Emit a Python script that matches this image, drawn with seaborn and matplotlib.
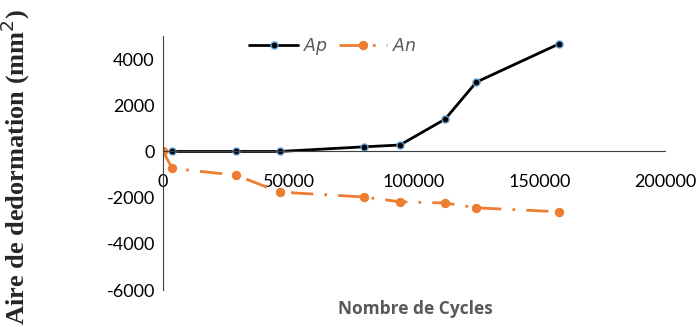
import matplotlib
matplotlib.use("Agg")
import matplotlib.pyplot as plt
import seaborn as sns
import pandas as pd

sns.set_style("white")
plt.rcParams["axes.unicode_minus"] = False

# data
cycles_ap = [3600, 29200, 46400, 80000, 94400, 112400, 124800, 157600]
area_ap = [0, 0, 0, 200, 280, 1400, 3000, 4650]
cycles_an = [0, 3600, 29200, 46400, 80000, 94400, 112400, 124800, 157600]
area_an = [0, -730, -1030, -1760, -1970, -2180, -2230, -2440, -2610]

df_ap = pd.DataFrame({"cycles": cycles_ap, "area": area_ap})
df_an = pd.DataFrame({"cycles": cycles_an, "area": area_an})

fig = plt.figure(figsize=(7, 3.27), dpi=100)
ax = fig.add_axes([0.233, 0.113, 0.717, 0.777])

sns.lineplot(data=df_ap, x="cycles", y="area", ax=ax, color="black", lw=2,
             marker="o", markersize=5, markerfacecolor="black",
             markeredgecolor="#5b9bd5", markeredgewidth=1, label="$Ap$")
sns.lineplot(data=df_an, x="cycles", y="area", ax=ax, color="#ed7d31", lw=2,
             marker="o", markersize=6, markerfacecolor="#ed7d31",
             markeredgecolor="#ed7d31", dashes=False, label="$An$")
ax.lines[1].set_dashes([8, 4, 1, 4])

ax.set_xlim(0, 200000)
ax.set_ylim(-6000, 5000)
ax.set_xticks([0, 50000, 100000, 150000, 200000])
ax.set_yticks([-6000, -4000, -2000, 0, 2000, 4000])

ax.spines["top"].set_visible(False)
ax.spines["right"].set_visible(False)
ax.spines["bottom"].set_position(("data", 0))
ax.spines["bottom"].set_color("#404040")
ax.spines["left"].set_color("#404040")
ax.tick_params(length=0, labelsize=13, labelcolor="black")
ax.tick_params(axis="x", pad=16)
ax.tick_params(axis="y", pad=6)
for t in ax.get_xticklabels() + ax.get_yticklabels():
    t.set_family("Lato")

ax.set_xlabel("")
ax.set_ylabel("")
fig.text(0.593, 0.055, "Nombre de Cycles", ha="center", va="center",
         fontsize=12.5, fontweight="bold", color="#595959", family="Open Sans")
fig.text(0.022, 0.49, "Aire de dedormation (mm$^2$)", rotation=90,
         ha="center", va="center", fontsize=19, fontweight="bold",
         family="Liberation Serif")

leg = ax.legend(loc="center", bbox_to_anchor=(0.476, 0.858),
                bbox_transform=fig.transFigure, ncol=2, frameon=False,
                fontsize=12.5, handlelength=2.8, handletextpad=0.3,
                columnspacing=0.6)
for t in leg.get_texts():
    t.set_color("#595959")

fig.savefig("out.png", dpi=100)
